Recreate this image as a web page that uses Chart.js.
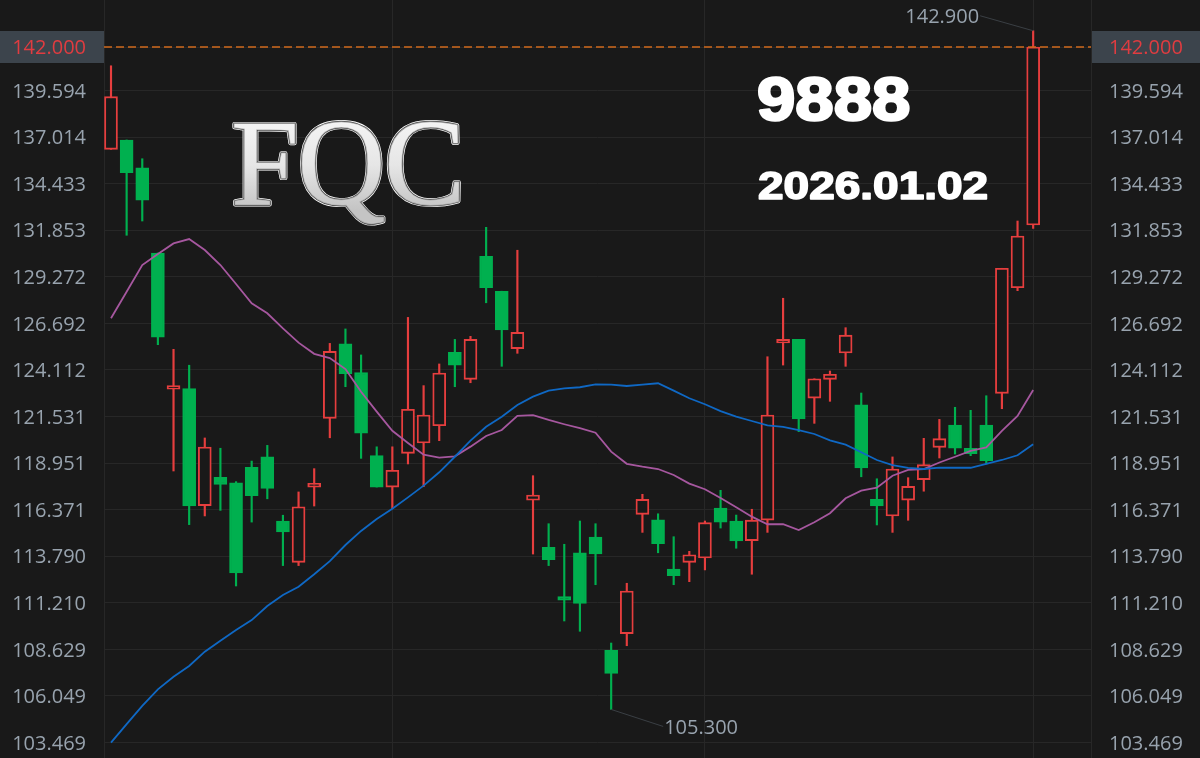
<!DOCTYPE html>
<html>
<head>
<meta charset="utf-8">
<title>9888</title>
<script src="https://cdn.jsdelivr.net/npm/chart.js@4"></script>
<style>
  html, body { margin: 0; padding: 0; background: #191919; }
  canvas { display: block; }
</style>
</head>
<body>
<canvas id="kline" width="1200" height="758"></canvas>
<script>
// prices, one entry per session
const opens = [136.33,136.85,135.31,130.59,123.04,123.07,116.59,118.16,117.85,118.71,119.29,115.74,113.45,117.62,121.43,125.56,123.96,119.36,117.62,119.49,120.06,121.02,125.09,123.59,130.40,128.47,125.29,116.89,114.28,111.55,113.97,114.85,108.58,109.50,116.11,115.81,113.08,113.45,113.69,116.46,115.74,114.65,115.79,125.60,125.80,122.55,123.59,125.05,122.18,116.94,116.02,116.90,118.03,119.82,121.06,119.77,121.06,122.81,128.66,132.14];
const closes = [139.25,135.04,133.51,125.92,123.24,116.57,119.84,117.77,112.86,117.14,117.55,115.13,116.53,117.83,125.14,123.90,120.60,117.62,118.55,121.93,121.61,123.94,124.38,125.80,128.66,126.32,126.19,117.18,113.60,111.35,111.18,113.91,107.30,111.86,116.94,114.48,112.71,113.87,115.65,115.68,114.63,115.79,121.61,125.80,121.40,123.62,123.87,126.04,118.68,116.57,118.62,117.66,118.86,120.30,119.78,119.47,119.08,129.74,131.53,142.00];
const highs = [140.96,136.85,135.81,130.59,125.25,124.37,120.34,119.77,117.92,119.06,119.93,116.06,117.35,118.64,125.58,126.38,124.94,119.85,119.85,127.02,123.24,124.44,125.80,125.97,132.01,128.47,130.74,118.25,115.59,114.45,115.74,115.59,108.98,112.29,117.22,116.14,114.87,114.06,115.74,117.44,116.07,116.39,124.84,128.08,125.80,123.62,124.05,126.45,122.83,118.08,119.29,118.14,120.32,121.37,122.04,121.87,122.68,129.74,132.36,142.90];
const lows = [136.33,131.57,132.36,125.51,118.51,115.54,116.02,116.33,112.14,115.68,116.97,113.27,113.27,116.57,120.35,123.18,119.21,117.62,116.42,118.90,117.64,120.19,123.18,123.40,127.83,124.31,125.03,113.91,113.27,110.20,109.63,112.21,105.30,108.83,115.11,113.98,112.21,112.38,113.03,115.35,114.23,112.79,115.11,124.38,120.69,121.15,122.37,124.31,118.19,115.52,115.11,115.78,117.39,119.23,119.45,119.36,118.90,121.96,128.50,131.95];

// moving averages
const maShort = [126.97,128.44,129.92,130.53,131.12,131.36,130.75,129.92,128.87,127.80,127.25,126.41,125.62,125.00,124.77,124.16,122.90,121.80,120.74,120.06,119.41,119.25,119.32,119.86,120.45,120.78,121.57,121.61,121.34,121.10,120.88,120.63,119.58,118.91,118.75,118.62,118.29,117.81,117.50,117.01,116.50,115.98,115.56,115.56,115.24,115.67,116.17,117.00,117.42,117.59,118.25,118.57,118.62,118.98,119.30,119.63,119.82,120.73,121.56,123.00];
const maLong = [103.46,104.49,105.50,106.41,107.11,107.71,108.50,109.11,109.70,110.25,111.03,111.64,112.10,112.79,113.52,114.41,115.19,115.85,116.42,117.05,117.70,118.44,119.30,120.19,120.96,121.52,122.17,122.63,122.96,123.09,123.15,123.31,123.29,123.22,123.29,123.37,122.96,122.54,122.21,121.83,121.52,121.28,121.04,120.95,120.78,120.56,120.21,119.97,119.55,119.12,118.84,118.68,118.62,118.70,118.69,118.69,118.90,119.12,119.38,119.99];

const priceTicks = [142, 139.594, 137.014, 134.433, 131.853, 129.272, 126.692, 124.112, 121.531, 118.951, 116.371, 113.79, 111.21, 108.629, 106.049, 103.469];
const lastPrice = 142;
const xGridSessions = [18, 38, 59];

const BG = '#191919';
const GRID = '#272727';
const UP = '#e63e3e';
const DOWN = '#00b04f';
const TEXT = '#98a3ae';
const FONT = '"Open Sans", sans-serif';

const xMin = -0.448, xMax = 62.7;
const yMin = 102.61, yMax = 144.604;

const isUp = i => closes[i] > opens[i];

// background, and the grey boxes behind the last price labels
const backdrop = {
    id: 'backdrop',
    beforeDraw(chart) {
        const { ctx, width, height, chartArea, scales } = chart;
        const y = scales.y.getPixelForValue(lastPrice);
        ctx.save();
        ctx.fillStyle = BG;
        ctx.fillRect(0, 0, width, height);
        ctx.fillStyle = '#3c444c';
        ctx.fillRect(0, y - 16, chartArea.left, 32);
        ctx.fillRect(chartArea.right, y - 16, width - chartArea.right, 32);
        ctx.restore();
    }
};

// high / low call-outs and the overlay text
const overlay = {
    id: 'overlay',
    afterDraw(chart) {
        const { ctx, scales } = chart;
        ctx.save();

        const callout = (session, value, dx, dy, align) => {
            const px = scales.x.getPixelForValue(session);
            const py = scales.y.getPixelForValue(value);
            ctx.strokeStyle = '#3a3f44';
            ctx.lineWidth = 1;
            ctx.beginPath();
            ctx.moveTo(px, py);
            ctx.lineTo(px + dx, py + dy);
            ctx.stroke();
            ctx.fillStyle = TEXT;
            ctx.font = '20px ' + FONT;
            ctx.textAlign = align;
            ctx.textBaseline = 'middle';
            ctx.fillText(value.toFixed(3), px + dx + (align === 'left' ? 1 : -1), py + dy + 2);
        };
        const hi = highs.indexOf(Math.max(...highs));
        const lo = lows.indexOf(Math.min(...lows));
        callout(hi, highs[hi], -53, -15, 'right');
        callout(lo, lows[lo], 52, 17, 'left');

        // bold white code and date
        ctx.fillStyle = '#fff';
        ctx.strokeStyle = '#fff';
        ctx.lineJoin = 'round';
        ctx.textAlign = 'left';
        ctx.textBaseline = 'alphabetic';
        const boldText = (str, x, y, size, sx, sw) => {
            ctx.save();
            ctx.translate(x, y);
            ctx.scale(sx, 1);
            ctx.font = 'bold ' + size + 'px "Liberation Sans"';
            ctx.lineWidth = sw;
            ctx.strokeText(str, 0, 0);
            ctx.fillText(str, 0, 0);
            ctx.restore();
        };
        boldText('9888', 757, 120, 61, 1.13, 2.5);
        boldText('2026.01.02', 758, 199, 38, 1.21, 1.6);

        // silver logo
        ctx.font = '122px "Liberation Serif"';
        ctx.letterSpacing = '-1.5px';
        const lx = 231, ly = 204;
        const silver = ctx.createLinearGradient(0, 120, 0, 210);
        silver.addColorStop(0, '#f4f4f4');
        silver.addColorStop(0.5, '#e6e6e6');
        silver.addColorStop(1, '#c4c4c4');
        ctx.strokeStyle = '#ffffff';
        ctx.lineWidth = 4.2;
        ctx.strokeText('FQC', lx, ly);
        ctx.strokeStyle = '#4a4a4a';
        ctx.lineWidth = 2.8;
        ctx.strokeText('FQC', lx, ly);
        ctx.strokeStyle = '#a8a8a8';
        ctx.lineWidth = 1.4;
        ctx.strokeText('FQC', lx, ly);
        ctx.fillStyle = silver;
        ctx.fillText('FQC', lx, ly);
        ctx.restore();
    }
};

const priceAxis = (position, width) => ({
    type: 'linear',
    position,
    min: yMin,
    max: yMax,
    border: { display: false },
    grid: { color: GRID, lineWidth: 1, drawTicks: false, drawOnChartArea: position === 'left' },
    afterBuildTicks(axis) { axis.ticks = priceTicks.map(value => ({ value })); },
    afterFit(axis) {
        axis.width = width;
        // let the plot run to the canvas edge, labels never reach it
        axis.paddingTop = 0;
        axis.paddingBottom = 0;
    },
    ticks: {
        autoSkip: false,
        padding: 18,
        labelOffset: 1.5,
        font: { size: 20, family: FONT },
        color: c => (c.tick.value === lastPrice ? '#e03c40' : TEXT),
        callback: v => v.toFixed(3)
    }
});

new Chart(document.getElementById('kline'), {
    type: 'bar',
    plugins: [backdrop, overlay],
    data: {
        datasets: [
            {
                label: 'wick',
                order: 4,
                grouped: false,
                barThickness: 1.5,
                data: highs.map((h, i) => ({ x: i, y: [lows[i], h] })),
                backgroundColor: highs.map((h, i) => (isUp(i) ? UP : DOWN)),
                borderWidth: 0
            },
            {
                label: 'body',
                order: 3,
                grouped: false,
                barThickness: 13,
                data: opens.map((o, i) => ({ x: i, y: [o, closes[i]] })),
                backgroundColor: opens.map((o, i) => (isUp(i) ? BG : DOWN)),
                borderColor: opens.map((o, i) => (isUp(i) ? UP : DOWN)),
                borderWidth: 1.9,
                borderSkipped: false
            },
            {
                type: 'line',
                label: 'MA short',
                order: 2,
                data: maShort.map((y, x) => ({ x, y })),
                borderColor: '#a6579f',
                borderWidth: 1.8,
                pointRadius: 0,
                tension: 0
            },
            {
                type: 'line',
                label: 'MA long',
                order: 1,
                data: maLong.map((y, x) => ({ x, y })),
                borderColor: '#0f68c4',
                borderWidth: 1.8,
                pointRadius: 0,
                tension: 0
            },
            {
                type: 'line',
                label: 'last',
                order: 0,
                data: [{ x: xMin, y: lastPrice }, { x: xMax, y: lastPrice }],
                borderColor: '#d06a1c',
                borderWidth: 1.6,
                borderDash: [8, 4],
                pointRadius: 0
            }
        ]
    },
    options: {
        responsive: false,
        animation: false,
        layout: { padding: 0 },
        plugins: { legend: { display: false }, tooltip: { enabled: false } },
        scales: {
            x: {
                type: 'linear',
                min: xMin,
                max: xMax,
                offset: false,
                border: { display: false },
                grid: { color: GRID, offset: false, drawTicks: false },
                ticks: { display: false },
                afterBuildTicks(axis) {
                    axis.ticks = [xMin, ...xGridSessions, xMax].map(value => ({ value }));
                },
                afterFit(axis) { axis.height = 0; }
            },
            y: priceAxis('left', 104),
            y2: priceAxis('right', 109)
        }
    }
});
</script>
</body>
</html>
